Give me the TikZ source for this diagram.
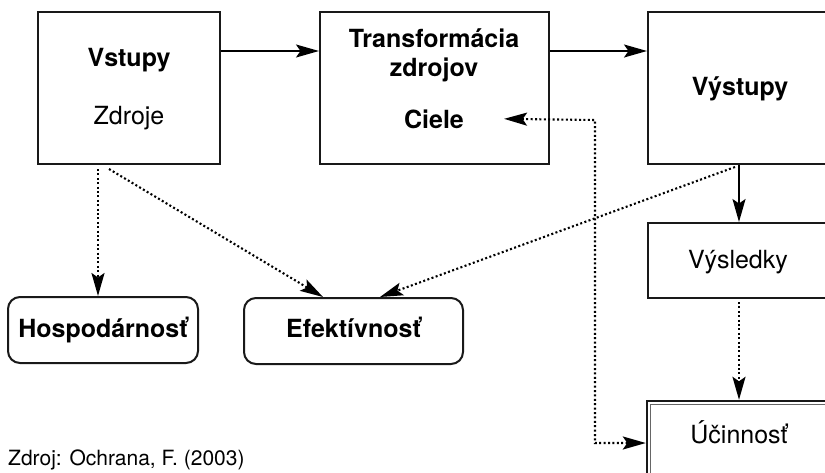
\documentclass[tikz,border=0pt]{standalone}
\usepackage{fontspec}
\setmainfont{TeX Gyre Heros}
\usetikzlibrary{arrows.meta,calc}
\begin{document}
\begin{tikzpicture}[x=1pt,y=-1pt,
  box/.style={draw=black!90, line width=2pt, rectangle, inner sep=0pt},
  rbox/.style={draw=black!90, line width=2pt, rectangle, rounded corners=12pt, inner sep=0pt},
  lbl/.style={anchor=base, inner sep=0pt, font=\fontsize{25}{30}\selectfont},
  blbl/.style={anchor=base, inner sep=0pt, font=\fontsize{25}{30}\selectfont\bfseries},
  tip/.tip={Stealth[length=23pt,width=13pt,inset=4.5pt]},
  arr/.style={line width=1.9pt, -tip},
  dotarr/.style={line width=2.1pt, dash pattern=on 2pt off 2.4pt, -tip},
  dotarrb/.style={line width=2.1pt, dash pattern=on 2pt off 2.4pt, tip-tip},
]
\useasboundingbox (0,0) rectangle (825,472);
\clip (0,0) rectangle (825,472);

% boxes
\node[box, minimum width=182pt, minimum height=152pt] (vst) at (129,88) {};
\node[box, minimum width=229pt, minimum height=152pt] (trn) at (434.5,88) {};
\node[box, minimum width=184pt, minimum height=152pt] (vys) at (740,88) {};
\node[box, minimum width=184pt, minimum height=75pt] (vsl) at (740,260.5) {};
\node[box, line width=2.4pt, minimum width=185pt, minimum height=79pt] (uci) at (739.5,440.5) {};
\draw[black!60, line width=1pt] ([xshift=5pt,yshift=-5pt]uci.north west) rectangle ([xshift=-5pt,yshift=5pt]uci.south east);
\node[rbox, minimum width=190pt, minimum height=66pt] (hos) at (103,330) {};
\node[rbox, minimum width=219pt, minimum height=66pt] (efe) at (353.5,331) {};

% labels
\node[blbl] (tvst) at (129,66) {Vstupy};
\node[lbl]  (tzdr) at (129,124) {Zdroje};
\node[blbl] (ttrn) at (434,47) {Transformácia};
\node[blbl] (tzdj) at (434,76) {zdrojov};
\node[blbl] (tcie) at (434,128) {Ciele};
\node[blbl] (tvys) at (740,95) {Výstupy};
\node[lbl]  (tvsl) at (738,268) {Výsledky};
\node[lbl]  (tuci) at (739,443) {Účinnosť};
\node[blbl] (thos) at (103,337) {Hospodárnosť};
\node[blbl] (tefe) at (353.5,337) {Efektívnosť};
\node[anchor=base west, inner sep=0pt, font=\fontsize{21}{25}\selectfont] (src) at (8,465.5) {Zdroj: Ochrana, F. (2003)};

% solid arrows
\draw[arr] ([yshift=37pt]vst.east) -- ([yshift=37pt]trn.west);
\draw[arr] ([yshift=37pt]trn.east) -- ([yshift=37pt]vys.west);
\draw[arr] ([xshift=-1pt]vys.south) -- ([xshift=-1pt]vsl.north);

% dotted arrows
\coordinate (turn) at (595,120);
\draw[dotarr] ([xshift=-31pt,yshift=-4pt]vst.south) -- ([xshift=-5pt]hos.north);
\draw[dotarr] ([xshift=-20pt,yshift=-4pt]vst.south) -- ([xshift=-30.5pt]efe.north);
\draw[dotarr] ([xshift=-5pt,yshift=-2pt]vys.south) -- ([xshift=26.5pt]efe.north);
\draw[dotarr] ([xshift=-1pt,yshift=-3pt]vsl.south) -- ([xshift=-0.5pt]uci.north);
\draw[dotarrb] ([xshift=40pt]tcie.east) -- (turn) |- ([yshift=-2.5pt]uci.west);
\end{tikzpicture}
\end{document}
